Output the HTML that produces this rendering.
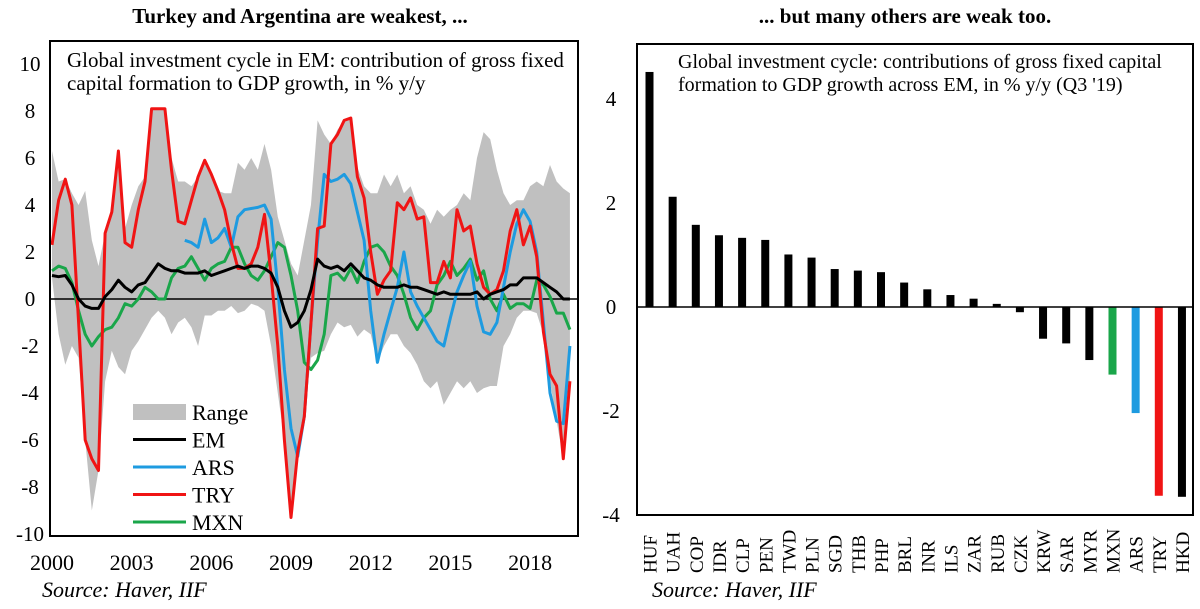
<!DOCTYPE html>
<html><head><meta charset="utf-8">
<style>
html,body{margin:0;padding:0;background:#fff;}
svg{display:block;font-family:"Liberation Serif",serif;}
</style></head>
<body>
<svg id="svg" width="1200" height="609" viewBox="0 0 1200 609">
  <text x="300" y="23" text-anchor="middle" font-size="21" font-weight="bold">Turkey and Argentina are weakest, ...</text>
  <text x="905" y="23" text-anchor="middle" font-size="21" font-weight="bold">... but many others are weak too.</text>
  <g id="left"></g>
  <g id="right"></g>
  <text x="42" y="597" font-size="22" font-style="italic">Source: Haver, IIF</text>
  <text x="652" y="597" font-size="22" font-style="italic">Source: Haver, IIF</text>
</svg>
<script>
// ---------- Left chart data (quarterly 2000Q1 - 2019Q3) ----------
const yearTicks = [2000, 2003, 2006, 2009, 2012, 2015, 2018];
const yTicksLeft = [10, 8, 6, 4, 2, 0, -2, -4, -6, -8, -10];
const rangeUpper = [6.3,5.0,5.1,4.5, 4.0,4.6,2.5,1.4, 2.8,3.8,6.3,3.0, 4.0,4.8,5.2,8.1, 8.1,8.1,6.0,5.0, 5.0,4.8,5.2,5.9, 5.3,4.6,4.5,4.5, 5.8,5.5,6.0,5.5, 6.6,5.5,3.5,2.5, 1.5,1.0,2.5,4.0, 7.6,7.0,6.6,7.2, 7.6,7.7,5.6,4.8, 4.5,4.5,5.3,4.8, 5.3,4.5,4.8,4.0, 3.8,3.2,3.8,3.5, 3.8,4.0,4.5,4.2, 6.0,7.1,6.8,5.5, 4.5,4.0,4.2,4.2, 4.8,5.0,4.8,5.7, 5.0,4.7,4.5];
const rangeLower = [0.9,-1.5,-2.8,-2.0, -2.5,-6.0,-9.0,-7.3, -3.5,-2.2,-2.9,-3.2, -2.2,-1.8,-1.3,-0.8, -0.5,-0.8,-1.5,-1.0, -0.8,-1.2,-2.0,-0.7, -0.7,-0.5,-0.5,-0.3, -0.6,-0.5,-0.2,-0.3, -0.5,-2.0,-4.0,-6.0, -9.3,-6.7,-5.0,-2.5, -2.3,-2.2,-1.5,-1.0, -1.2,-1.1,-1.6,-1.3, -1.5,-2.7,-2.0,-1.5, -1.5,-2.0,-2.3,-2.8, -3.5,-3.8,-3.5,-4.5, -4.0,-3.5,-3.8,-3.5, -4.0,-3.8,-3.7,-3.7, -2.0,-1.5,-0.8,-0.5, -0.5,-0.6,-1.5,-3.5, -5.2,-6.8,-3.5];
const emSeries = [1.0,0.95,1.0,0.6, 0.0,-0.3,-0.4,-0.4, 0.1,0.4,0.8,0.5, 0.3,0.6,0.7,1.1, 1.5,1.3,1.2,1.2, 1.1,1.1,1.1,1.2, 1.0,1.1,1.2,1.3, 1.4,1.3,1.4,1.4, 1.3,1.1,0.5,-0.5, -1.2,-1.0,-0.5,0.4, 1.7,1.4,1.3,1.4, 1.2,1.5,1.2,0.9, 0.8,0.6,0.5,0.5, 0.5,0.6,0.5,0.5, 0.4,0.3,0.2,0.3, 0.2,0.2,0.2,0.2, 0.3,0.0,0.2,0.3, 0.4,0.6,0.6,0.9, 0.9,0.9,0.7,0.5, 0.3,0.0,0.0];
const arsSeries = [null,null,null,null, null,null,null,null, null,null,null,null, null,null,null,null, null,null,null,null, 2.5,2.4,2.2,3.4, 2.4,2.6,3.0,2.2, 3.5,3.8,3.85,3.9, 4.0,3.4,0.5,-3.0, -5.5,-6.7,-5.0,-1.0, 2.5,5.3,5.0,5.1, 5.3,4.9,3.7,2.5, -0.5,-2.7,-1.5,-0.5, 0.5,2.0,0.3,-0.3, -0.8,-1.3,-1.8,-2.0, -0.8,0.3,1.0,1.6, -0.3,-1.4,-1.5,-1.0, 0.5,2.0,3.2,3.8, 3.3,2.0,-1.0,-4.0, -5.2,-5.3,-2.0];
const trySeries = [2.3,4.2,5.1,4.0, -1.0,-6.0,-6.8,-7.3, 2.8,3.7,6.3,2.4, 2.2,3.8,5.0,8.1, 8.1,8.1,5.5,3.3, 3.2,4.2,5.2,5.9, 5.3,4.6,3.8,2.4, 1.3,1.3,1.5,2.2, 3.6,1.0,-2.0,-6.0, -9.3,-6.5,-5.0,-1.0, 3.0,3.1,6.6,7.0, 7.6,7.7,5.2,4.3, 2.0,0.2,0.8,1.2, 4.1,3.8,4.3,3.4, 3.5,0.7,0.7,1.6, 0.9,3.8,2.9,3.1, 1.5,0.5,0.2,0.4, 1.2,2.9,3.8,2.3, 3.1,1.8,-1.4,-3.2, -3.7,-6.8,-3.5];
const mxnSeries = [1.2,1.4,1.3,0.7, -0.5,-1.5,-2.0,-1.6, -1.3,-1.2,-0.8,-0.2, -0.3,0.0,0.5,0.3, 0.0,0.0,0.9,1.3, 1.4,1.8,1.3,0.8, 1.3,1.5,1.6,2.2, 2.2,1.5,1.0,0.8, 1.2,1.8,2.4,2.2, 1.0,-0.5,-2.7,-3.0, -2.6,-1.5,1.0,1.1, 0.8,1.3,0.7,1.6, 2.2,2.3,2.0,1.4, 1.0,0.2,-0.8,-1.3, -0.8,-0.5,0.6,1.0, 1.6,1.0,1.3,1.7, 0.8,1.2,0.0,-0.5, 0.2,-0.4,-0.2,-0.2, -0.4,0.8,0.6,0.1, -0.6,-0.6,-1.3];
const legendLabels = ["Range", "EM", "ARS", "TRY", "MXN"];

// ---------- Right chart data ----------
const countries = ["HUF","UAH","COP","IDR","CLP","PEN","TWD","PLN","SGD","THB","PHP","BRL","INR","ILS","ZAR","RUB","CZK","KRW","SAR","MYR","MXN","ARS","TRY","HKD"];
const contribValues = [4.52,2.12,1.58,1.38,1.33,1.29,1.01,0.95,0.73,0.70,0.67,0.47,0.34,0.23,0.16,0.06,-0.10,-0.61,-0.70,-1.02,-1.30,-2.04,-3.63,-3.65];
const yTicksRight = [4, 2, 0, -2, -4];

const NS = "http://www.w3.org/2000/svg";
function mk(tag, attrs, parent, text) {
  const e = document.createElementNS(NS, tag);
  for (const k in attrs) e.setAttribute(k, attrs[k]);
  if (text !== undefined) e.textContent = text;
  parent.appendChild(e);
  return e;
}

// ===== Left chart =====
const L = document.getElementById('left');
const lx = i => 52 + i * 6.64;
const lxYear = yr => 52 + (yr - 2000) * 26.56;
const ly = v => 299 - v * 23.5;

let bandPts = [];
for (let i = 0; i < rangeUpper.length; i++) bandPts.push(lx(i) + "," + ly(rangeUpper[i]));
for (let i = rangeLower.length - 1; i >= 0; i--) bandPts.push(lx(i) + "," + ly(rangeLower[i]));
const band = mk('polygon', {points: bandPts.join(" "), fill: "#c0c0c0"}, L);



const z = mk('line', {x1: 50, x2: 578, y1: ly(0), y2: ly(0), stroke: "#000", "stroke-width": 1.5}, L);



function drawSeries(arr, color, name) {
  let d = "", pen = false;
  arr.forEach((v, i) => {
    if (v === null) { pen = false; return; }
    d += (pen ? "L" : "M") + lx(i).toFixed(1) + "," + ly(v).toFixed(1);
    pen = true;
  });
  const p = mk('path', {d: d, fill: "none", stroke: color, "stroke-width": 3, "stroke-linejoin": "round"}, L);
  
  
}
drawSeries(mxnSeries, "#1aa64a", "mxn-line");
drawSeries(arsSeries, "#1e9be0", "ars-line");
drawSeries(trySeries, "#f01414", "try-line");
drawSeries(emSeries, "#000000", "em-line");

const lf = mk('rect', {x: 50, y: 41, width: 528, height: 495, fill: "none", stroke: "#000", "stroke-width": 2}, L);



yTicksLeft.forEach(t => {
  const e = mk('text', {x: 30, y: ly(t) + 7, "text-anchor": "middle", "font-size": 21}, L, String(t));
  
  
});
yearTicks.forEach(yr => {
  const e = mk('text', {x: lxYear(yr), y: 570, "text-anchor": "middle", "font-size": 22}, L, String(yr));
  
  
});

const n1 = mk('text', {x: 67, y: 67, "font-size": 21}, L, "Global investment cycle in EM: contribution of gross fixed");


const n2 = mk('text', {x: 67, y: 90, "font-size": 21}, L, "capital formation to GDP growth, in % y/y");



const legColors = ["#c0c0c0", "#000000", "#1e9be0", "#f01414", "#1aa64a"];
legendLabels.forEach((lab, k) => {
  const y = 412 + k * 27.5;
  const g = mk('g', {}, L);
  
  
  if (k === 0) mk('rect', {x: 133, y: y - 8, width: 53, height: 16, fill: legColors[k]}, g);
  else mk('line', {x1: 133, x2: 186, y1: y, y2: y, stroke: legColors[k], "stroke-width": 3}, g);
  mk('text', {x: 192, y: y + 8, "font-size": 22}, g, lab);
});

// ===== Right chart =====
const R = document.getElementById('right');
const ry = v => 307 - v * 52;
const rx = i => 649.5 + i * 23.15;
const barColor = c => c === "MXN" ? "#1aa64a" : c === "ARS" ? "#1e9be0" : c === "TRY" ? "#f01414" : "#000";

countries.forEach((c, i) => {
  const v = contribValues[i];
  const b = mk('rect', {x: rx(i) - 4, y: Math.min(ry(v), ry(0)), width: 8, height: Math.abs(ry(v) - ry(0)), fill: barColor(c)}, R);
  
  
  const t = mk('text', {x: 0, y: 0, "font-size": 19, transform: "translate(" + (rx(i) + 7) + ",573) rotate(-90)"}, R, c);
  
  
});
const rz = mk('line', {x1: 637, x2: 1193, y1: ry(0), y2: ry(0), stroke: "#000", "stroke-width": 1.5}, R);


const rf = mk('rect', {x: 637, y: 44, width: 556, height: 471, fill: "none", stroke: "#000", "stroke-width": 2}, R);


yTicksRight.forEach(t => {
  const e = mk('text', {x: 611, y: ry(t) + 7, "text-anchor": "middle", "font-size": 21}, R, String(t));
  
  
});
const r1 = mk('text', {x: 678, y: 68, "font-size": 20}, R, "Global investment cycle: contributions of gross fixed capital");


const r2 = mk('text', {x: 678, y: 91, "font-size": 20}, R, "formation to GDP growth across EM, in % y/y (Q3 '19)");


</script>
</body></html>
